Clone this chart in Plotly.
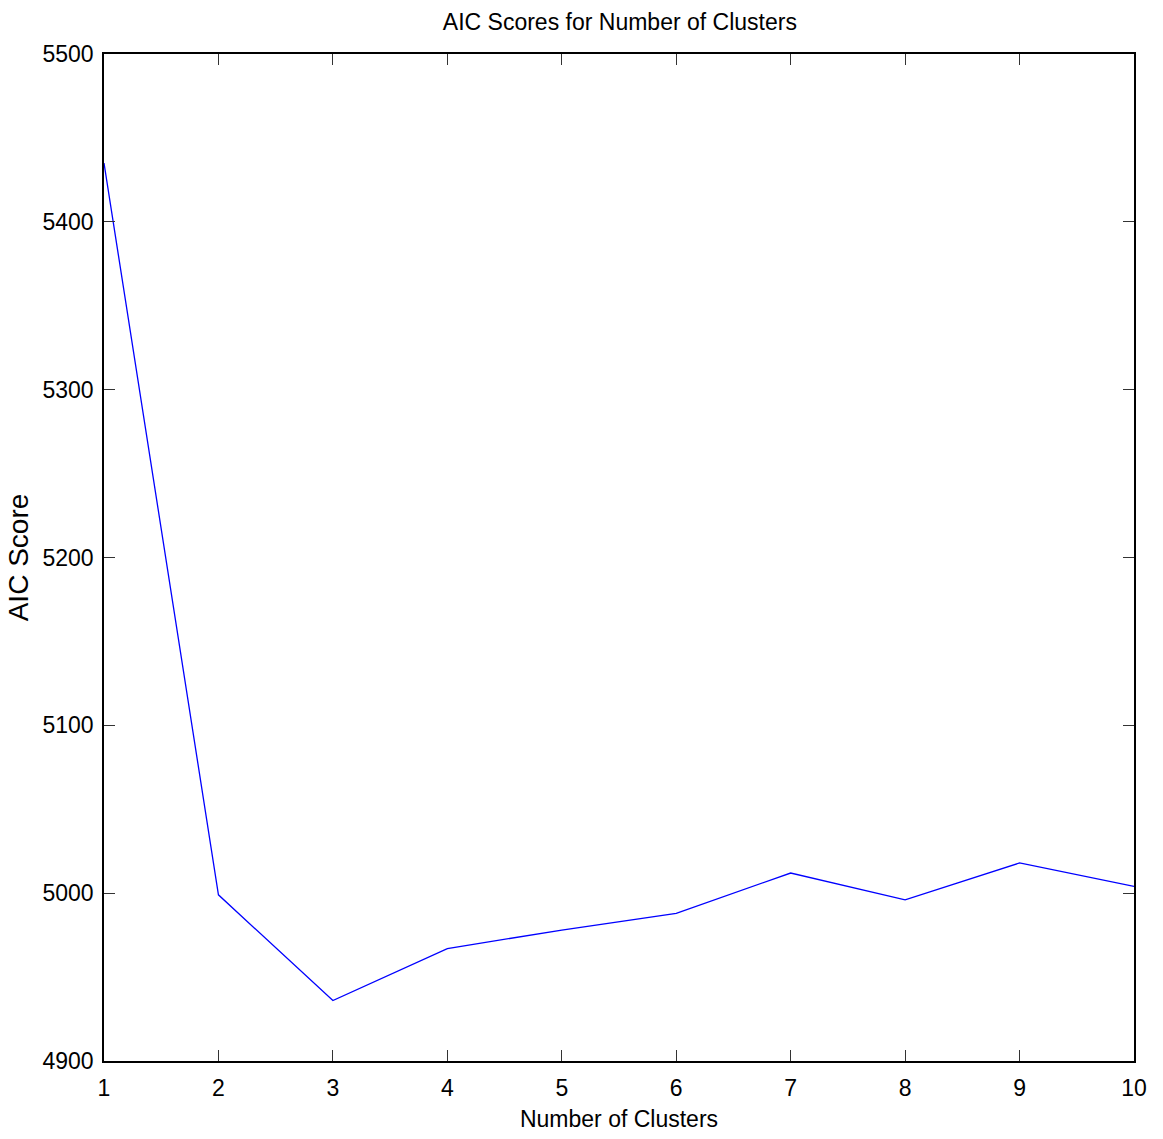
import plotly.graph_objects as go

clusters = [1, 2, 3, 4, 5, 6, 7, 8, 9, 10]
aic_scores = [5435, 4999, 4936, 4967, 4978, 4988, 5012, 4996, 5018, 5004]
y_ticks = [4900, 5000, 5100, 5200, 5300, 5400, 5500]

FONT = "Liberation Sans, Arial, Helvetica, sans-serif"

fig = go.Figure()
fig.add_trace(go.Scatter(x=clusters, y=aic_scores, mode="lines",
                         line=dict(color="#0000ff", width=1.3), showlegend=False))

axis_common = dict(showgrid=False, zeroline=False, showline=True, linecolor="black",
                   linewidth=1.5, mirror="ticks", ticks="inside", ticklen=11,
                   tickcolor="#333333", tickwidth=1,
                   tickfont=dict(family=FONT, size=23, color="black"))

fig.update_xaxes(range=[1, 10], tickvals=clusters, ticktext=[str(c) for c in clusters],
                 ticklabelstandoff=6,
                 title=dict(text="Number of Clusters", font=dict(family=FONT, size=23, color="black"),
                            standoff=11),
                 **axis_common)
fig.update_yaxes(range=[4900, 5500], tickvals=y_ticks, ticktext=[str(v) for v in y_ticks],
                 ticklabelstandoff=4,
                 title=dict(text="AIC Score", font=dict(family=FONT, size=28, color="black"),
                            standoff=6),
                 **axis_common)

fig.update_layout(
    width=1163, height=1139,
    margin=dict(l=104, r=29, t=54, b=78),
    paper_bgcolor="white", plot_bgcolor="white",
    title=dict(text="AIC Scores for Number of Clusters", x=0.533, xanchor="center",
               y=0.981, yanchor="middle",
               font=dict(family=FONT, size=23, color="black")),
)

fig.write_html("out.html")
